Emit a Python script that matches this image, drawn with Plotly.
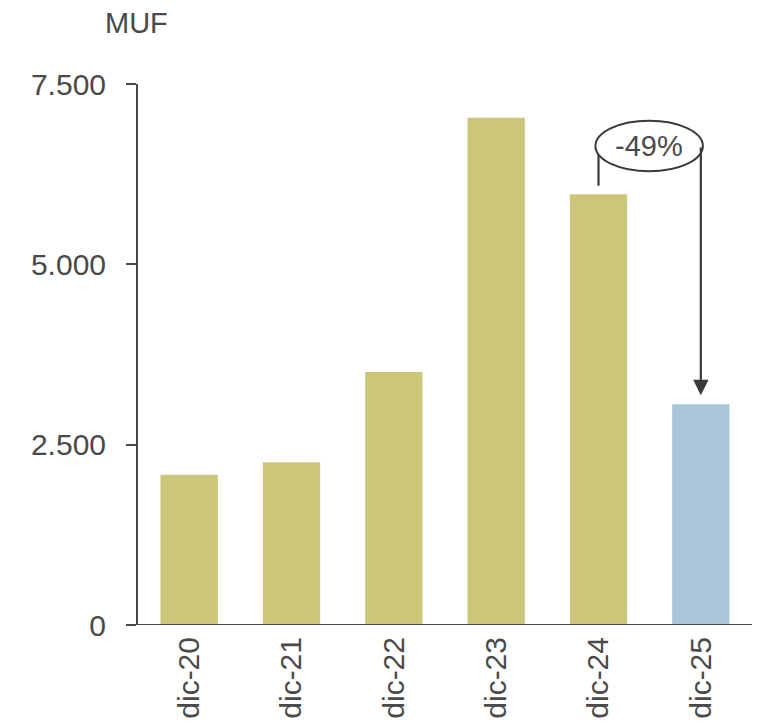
import plotly.graph_objects as go

# Year-end balances (MUF)
categories = ["dic-20", "dic-21", "dic-22", "dic-23", "dic-24", "dic-25"]
values = [2084, 2255, 3508, 7033, 5970, 3060]
bar_colors = ["#CBC67A", "#CBC67A", "#CBC67A", "#CBC67A", "#CBC67A", "#A8C6D8"]
y_ticks = [0, 2500, 5000, 7500]

text_color = "#4a4a4a"
axis_color = "#4a4a4a"
font_family = "Liberation Sans, Arial, sans-serif"

change = (values[5] - values[4]) / values[4] * 100
change_label = f"{change:.0f}%"

fig = go.Figure(
    go.Bar(
        x=categories,
        y=values,
        marker=dict(color=bar_colors, line=dict(width=0)),
        width=0.56,
        hoverinfo="x+y",
    )
)

# bracket: vertical stems over the two compared bars, bubble with the change
bubble_y = 6640
fig.add_shape(type="line", xref="x", yref="y", x0=4, x1=4,
              y0=values[4] + 120, y1=bubble_y,
              line=dict(color="#3a3a3a", width=2.2))
fig.add_annotation(x=5, y=values[5], ax=5, ay=bubble_y,
                   xref="x", yref="y", axref="x", ayref="y",
                   text="", showarrow=True, arrowhead=2, arrowsize=1.4,
                   arrowwidth=2.2, arrowcolor="#3a3a3a", standoff=9)
fig.add_shape(type="circle", xref="x", yref="y",
              x0=3.97, x1=5.02, y0=bubble_y - 350, y1=bubble_y + 350,
              line=dict(color="#3a3a3a", width=2),
              fillcolor="white", layer="above")
fig.add_annotation(x=4.495, y=bubble_y, xref="x", yref="y",
                   text=change_label, showarrow=False,
                   font=dict(size=29, color=text_color, family=font_family))

# unit label
fig.add_annotation(x=-0.057, y=1.113, xref="paper", yref="paper",
                   text="MUF", showarrow=False, xanchor="left", yanchor="middle",
                   font=dict(size=29, color=text_color, family=font_family))

fig.update_layout(
    width=763, height=728,
    margin=dict(l=138, r=11, t=84, b=103, autoexpand=False),
    paper_bgcolor="white", plot_bgcolor="white",
    separators=",.",
    showlegend=False,
    font=dict(family=font_family, size=30, color=text_color),
    bargap=0.44,
)
fig.update_xaxes(
    range=[-0.5, 5.5], showgrid=False, zeroline=False,
    showline=False, ticks="", tickangle=-90,
    ticklabelstandoff=5,
    tickfont=dict(size=30, color=text_color, family=font_family),
    automargin=False,
)
fig.update_yaxes(
    range=[0, 7500], tickvals=y_ticks, tickformat=",.0f",
    showgrid=False, zeroline=False, showline=True, linecolor=axis_color,
    linewidth=2, ticks="outside", ticklen=10, tickwidth=2, tickcolor=axis_color,
    ticklabelstandoff=14,
    tickfont=dict(size=30, color=text_color, family=font_family),
    automargin=False,
)
# baseline extending under the y-axis tick
fig.add_shape(type="line", xref="paper", yref="y", x0=-0.0163, x1=1, y0=0, y1=0,
              line=dict(color=axis_color, width=2))

fig.write_html("out.html")
